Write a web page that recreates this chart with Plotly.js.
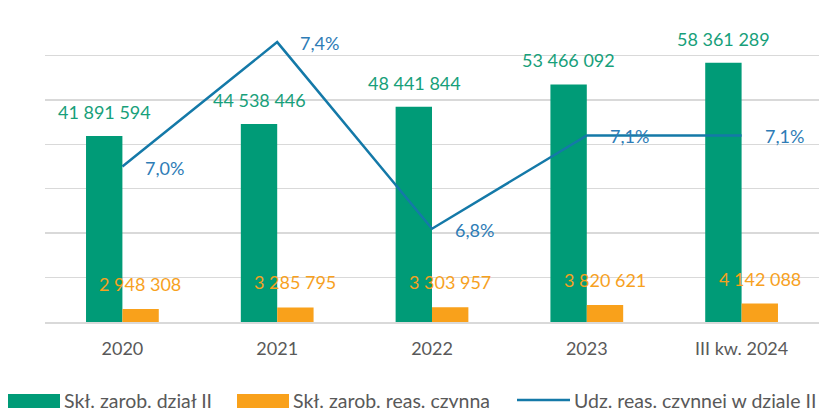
<!DOCTYPE html>
<html>
<head>
<meta charset="utf-8">
<script src="https://cdn.plot.ly/plotly-3.0.1.min.js"></script>
<style>html,body{margin:0;padding:0;background:#fff;}#chart{width:822px;height:408px;}</style>
</head>
<body>
<div id="chart"></div>
<script>
const categories = ["2020", "2021", "2022", "2023", "III kw. 2024"];
const skladkiDzialII = [41891594, 44538446, 48441844, 53466092, 58361289];
const skladkiReas = [2948308, 3285795, 3303957, 3820621, 4142088];
const udzialReas = [7.0, 7.4, 6.8, 7.1, 7.1];
const seriesNames = ["Skł. zarob. dział II", "Skł. zarob. reas. czynna", "Udz. reas. czynnej w dziale II"];

const GREEN = "#009B77", ORANGE = "#F9A11B", LINE = "#1479A8";
const GREEN_TXT = "#17A07A", ORANGE_TXT = "#F7A11E", BLUE_TXT = "#2E7CB6";
const FONT = "Lato, 'Open Sans', sans-serif";

function fmt(n){ return String(n).replace(/\B(?=(\d{3})+(?!\d))/g, " "); }
function pct(v){ return v.toFixed(1).replace(".", ",") + "%"; }

const traces = [
  {type:"bar", name:seriesNames[0], x:categories, y:skladkiDzialII, marker:{color:GREEN}, showlegend:false, hoverinfo:"skip"},
  {type:"bar", name:seriesNames[1], x:categories, y:skladkiReas, marker:{color:ORANGE}, showlegend:false, hoverinfo:"skip"},
  {type:"scatter", mode:"lines", name:seriesNames[2], x:categories, y:udzialReas, yaxis:"y2", line:{color:LINE, width:2.5}, showlegend:false, hoverinfo:"skip"}
];

const annotations = [];
categories.forEach((c, i) => {
  annotations.push({x:i, y:skladkiDzialII[i], xref:"x", yref:"y", text:fmt(skladkiDzialII[i]), showarrow:false,
    xshift:-18, yshift:24, font:{family:FONT, size:18, color:GREEN_TXT}});
  annotations.push({x:i, y:skladkiReas[i], xref:"x", yref:"y", text:fmt(skladkiReas[i]), showarrow:false,
    xshift:18, yshift:25, font:{family:FONT, size:18, color:ORANGE_TXT}});
  annotations.push({x:i, y:udzialReas[i], xref:"x", yref:"y2", text:pct(udzialReas[i]), showarrow:false,
    xanchor:"left", xshift:21, yshift:-1, font:{family:FONT, size:18, color:BLUE_TXT}});
});

// custom legend
const shapes = [
  {type:"rect", xref:"paper", yref:"paper", x0:-37/774, x1:15/774, y0:-86/311, y1:-72/311, fillcolor:GREEN, line:{width:0}},
  {type:"rect", xref:"paper", yref:"paper", x0:192/774, x1:244/774, y0:-86/311, y1:-72/311, fillcolor:ORANGE, line:{width:0}},
  {type:"line", xref:"paper", yref:"paper", x0:472/774, x1:525/774, y0:-78/311, y1:-78/311, line:{color:LINE, width:2.5}}
];
const legendX = [17, 246, 527];
seriesNames.forEach((n, i) => {
  annotations.push({xref:"paper", yref:"paper", x:legendX[i]/774, y:-78/311, xanchor:"left", yanchor:"middle",
    text:n, showarrow:false, font:{family:FONT, size:19.5, color:"#595959"}});
});

const layout = {
  width:822, height:408,
  margin:{l:45, r:3, t:11, b:86},
  paper_bgcolor:"#fff", plot_bgcolor:"#fff",
  barmode:"group", bargap:0.53, bargroupgap:0,
  font:{family:FONT, size:18, color:"#595959"},
  xaxis:{type:"category", range:[-0.5, 4.5], showgrid:false, showline:true, linecolor:"#d9d9d9", linewidth:1.5,
    ticks:"", tickfont:{family:FONT, size:18, color:"#595959"}, ticklabelstandoff:10},
  yaxis:{range:[0, 70000000], dtick:10000000, showticklabels:false, ticks:"",
    gridcolor:"#d9d9d9", gridwidth:1.5, zeroline:false, showline:false},
  yaxis2:{range:[6.5, 7.5], overlaying:"y", side:"right", showgrid:false, showticklabels:false,
    zeroline:false, showline:false, ticks:""},
  annotations:annotations, shapes:shapes, showlegend:false
};

Plotly.newPlot("chart", traces, layout, {displayModeBar:false, staticPlot:true});
</script>
</body>
</html>
